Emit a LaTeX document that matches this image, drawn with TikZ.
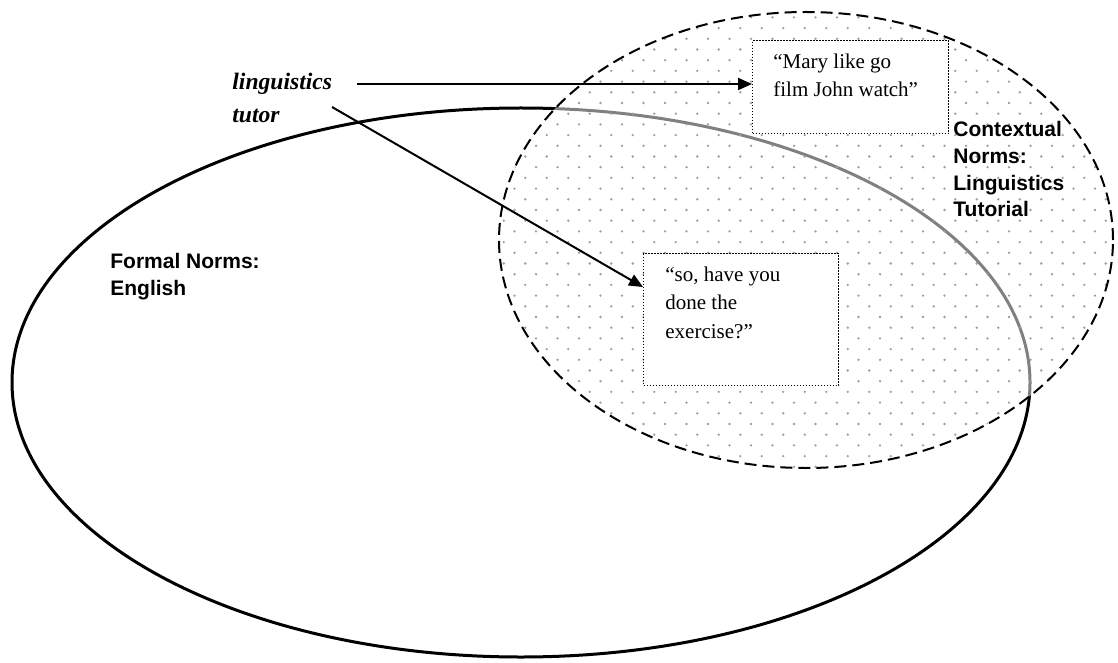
\documentclass[tikz,border=0pt]{standalone}
\usepackage{fontspec}
\setmainfont{Liberation Serif}
\setsansfont{Liberation Sans}
\usetikzlibrary{arrows.meta}
\definecolor{dotgray}{gray}{0.62}
\begin{document}
\begin{tikzpicture}[x=0.5pt,y=-0.5pt,
  formal/.style={line width=1.5pt},
  context/.style={line width=1pt, dash pattern=on 6pt off 3pt},
  quotebox/.style={draw, line width=0.6pt, dash pattern=on 0.6pt off 0.9pt,
    fill=white, inner sep=0pt, anchor=north west},
  % multi-line texts are placed by the baseline of their last line
  quotetext/.style={font=\fontsize{10.5}{14.2}\selectfont, align=left,
    inner sep=0pt, anchor=base west},
  normlabel/.style={font=\sffamily\bfseries\fontsize{10.5}{13.4}\selectfont,
    align=left, inner sep=0pt, anchor=base west},
  rolelabel/.style={font=\bfseries\itshape\fontsize{11.8}{16.5}\selectfont,
    align=left, inner sep=0pt, anchor=base west},
  pointer/.style={line width=1pt, -{Triangle[length=7pt,width=6pt]}}
]
\useasboundingbox (0,0) rectangle (1118,663);

% formal norms: English
\draw[formal] (521,382.5) ellipse [x radius=254.5pt, y radius=137.25pt];

% contextual norms: dotted, half-transparent region
\fill[white, opacity=0.5] (806,240) ellipse [x radius=153.5pt, y radius=114pt];
\begin{scope}
  \clip (806,240) ellipse [x radius=153.5pt, y radius=114pt];
  \foreach \r in {0,...,46}
    \foreach \c in {0,...,30}
      \fill[dotgray] ({493+\c*21.5+mod(\r,2)*10.75},{-4+\r*10.7}) circle [radius=0.65pt];
\end{scope}
\draw[context] (806,240) ellipse [x radius=153.5pt, y radius=114pt];

% utterance boxes
\node[quotebox, minimum width=98pt, minimum height=46.5pt] (q1) at (752,40) {};
\node[quotebox, minimum width=97.5pt, minimum height=66pt] (q2) at (643,253) {};
\node[quotetext] (t1) at (773,97) {“Mary like go\\film John watch”};
\node[quotetext] (t2) at (665,338) {“so, have you\\done the\\exercise?”};

% labels
\node[rolelabel] (role) at (232,123) {linguistics\\tutor};
\node[normlabel] (formal) at (110,295) {Formal Norms:\\English};
\node[normlabel] (ctx) at (953,217) {Contextual\\Norms:\\Linguistics\\Tutorial};

% pointers from the tutor to the utterances
\coordinate (a1) at (357,84);
\coordinate (a2) at (332,107);
\draw[pointer] (a1) -- (a1 -| q1.west);
\draw[pointer] (a2) -- ([yshift=-17pt]q2.north west);
\end{tikzpicture}
\end{document}
